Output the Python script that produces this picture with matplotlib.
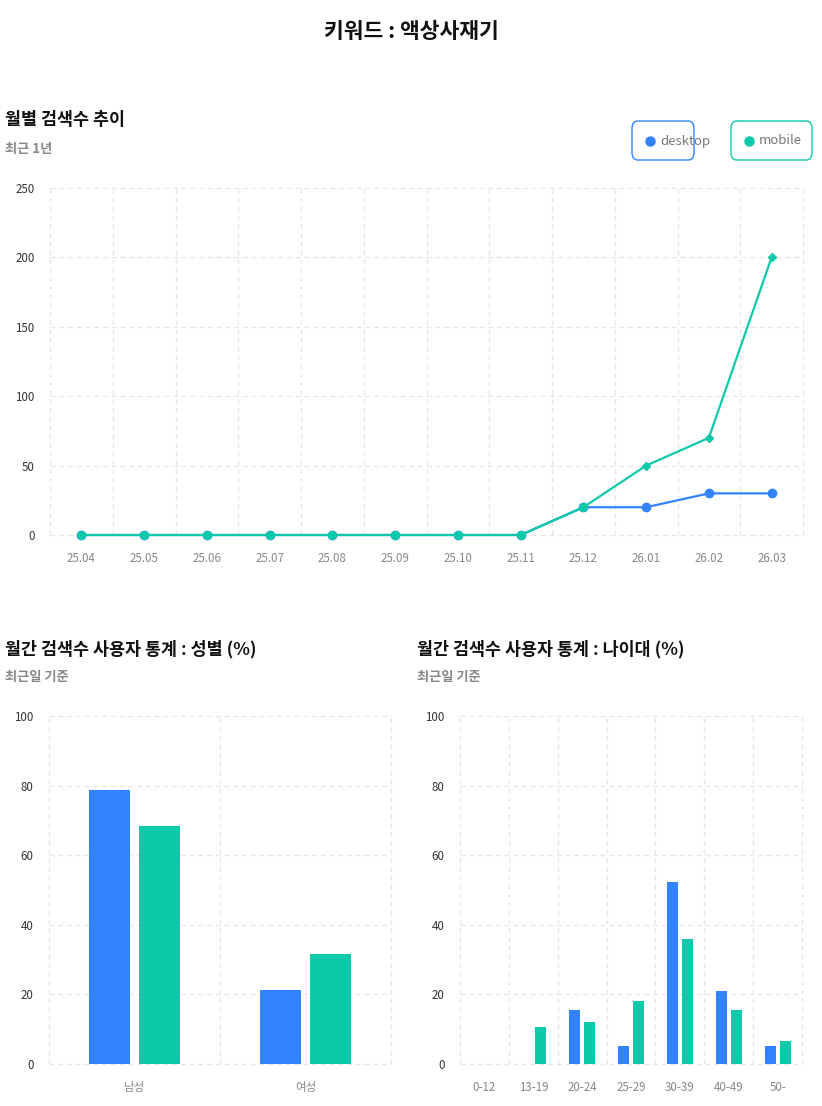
import matplotlib
matplotlib.use("Agg")
import matplotlib.pyplot as plt
from matplotlib.patches import FancyBboxPatch
import numpy as np

plt.rcParams['font.family'] = ['Noto Sans CJK KR', 'DejaVu Sans']

# data
months = ["25.04", "25.05", "25.06", "25.07", "25.08", "25.09", "25.10", "25.11",
          "25.12", "26.01", "26.02", "26.03"]
desktop_cnt = [0, 0, 0, 0, 0, 0, 0, 0, 20, 20, 30, 30]
mobile_cnt = [0, 0, 0, 0, 0, 0, 0, 0, 20, 50, 70, 200]

genders = ["남성", "여성"]
gender_desktop = [78.7, 21.3]
gender_mobile = [68.5, 31.5]

ages = ["0-12", "13-19", "20-24", "25-29", "30-39", "40-49", "50-"]
age_desktop = [0, 0, 15.4, 5.1, 52.4, 20.9, 5.1]
age_mobile = [0, 10.6, 12.0, 18.0, 36.0, 15.4, 6.6]

BLUE = "#3382ff"
GREEN = "#0ccaa9"
GRID = "#e6e6e6"
W, H = 822, 1106

fig = plt.figure(figsize=(W / 100, H / 100), dpi=100)


def px_axes(x0, y0, x1, y1):
    # pixel box (top-left origin) -> axes
    return fig.add_axes([x0 / W, 1 - y1 / H, (x1 - x0) / W, (y1 - y0) / H])


def style(ax, n, ymax, step):
    ax.set_xlim(-0.5, n - 0.5)
    ax.set_ylim(0, ymax)
    for s in ax.spines.values():
        s.set_visible(False)
    ax.set_yticks(np.arange(0, ymax + 1, step))
    for y in np.arange(0, ymax + 1, step):
        ax.axhline(y, color=GRID, lw=0.9, ls=(0, (4, 3)), zorder=0, clip_on=False)
    for x in np.arange(-0.5, n, 1.0):
        ax.axvline(x, color=GRID, lw=0.9, ls=(0, (4, 3)), zorder=0, clip_on=False)
    ax.tick_params(axis='both', length=0)
    ax.tick_params(axis='y', pad=11, labelsize=8.3, labelcolor="#333333")
    ax.tick_params(axis='x', pad=12, labelsize=8.3, labelcolor="#888888")


def fig_text(x, y, s, **kw):
    fig.text(x / W, 1 - y / H, s, **kw)


fig_text(411, 32, "키워드 : 액상사재기", ha='center', va='center', fontsize=15.5, fontweight='bold', color="#111111")

# line chart
fig_text(5, 120, "월별 검색수 추이", ha='left', va='center', fontsize=12.5, fontweight='bold', color="#111111")
fig_text(5, 149, "최근 1년", ha='left', va='center', fontsize=9.5, fontweight='bold', color="#888888")

ax1 = px_axes(50, 188, 803, 535)
style(ax1, len(months), 250, 50)
x = np.arange(len(months))
ax1.plot(x, desktop_cnt, color=BLUE, lw=1.6, marker='o', ms=6, zorder=3, clip_on=False)
ax1.plot(x, mobile_cnt, color=GREEN, lw=1.6, zorder=4, clip_on=False)
ax1.plot(x[:9], mobile_cnt[:9], ls='none', marker='o', ms=5.5, color=GREEN, zorder=5, clip_on=False)
ax1.plot(x[9:], mobile_cnt[9:], ls='none', marker='D', ms=4.2, color=GREEN, zorder=5, clip_on=False)
ax1.set_xticks(x)
ax1.set_xticklabels(months)

# legend boxes
for (x0, x1, col, lab) in [(632, 694, BLUE, "desktop"), (731, 812, GREEN, "mobile")]:
    box = FancyBboxPatch((x0 / W, 1 - 160 / H), (x1 - x0) / W, 39 / H,
                         boxstyle="round,pad=0,rounding_size=0.007",
                         transform=fig.transFigure, fc="white", ec=col, lw=1.0)
    fig.add_artist(box)
    fig.add_artist(plt.Line2D([(x0 + 18) / W], [1 - 141 / H], marker='o', ms=6.5,
                              color=col, transform=fig.transFigure))
    fig_text(x0 + 28, 141, lab, ha='left', va='center', fontsize=9.5, color="#777777")

# gender chart
fig_text(5, 649, "월간 검색수 사용자 통계 : 성별 (%)", ha='left', va='center', fontsize=12.5, fontweight='bold', color="#111111")
fig_text(5, 677, "최근일 기준", ha='left', va='center', fontsize=9.5, fontweight='bold', color="#888888")
ax2 = px_axes(49, 716, 391, 1064)
style(ax2, len(genders), 100, 20)
g = np.arange(len(genders))
ax2.bar(g - 0.149, gender_desktop, width=0.24, color=BLUE, zorder=2)
ax2.bar(g + 0.149, gender_mobile, width=0.24, color=GREEN, zorder=2)
ax2.set_xticks(g)
ax2.set_xticklabels(genders)

# age chart
fig_text(417, 649, "월간 검색수 사용자 통계 : 나이대 (%)", ha='left', va='center', fontsize=12.5, fontweight='bold', color="#111111")
fig_text(417, 677, "최근일 기준", ha='left', va='center', fontsize=9.5, fontweight='bold', color="#888888")
ax3 = px_axes(460, 716, 802, 1064)
style(ax3, len(ages), 100, 20)
a = np.arange(len(ages))
ax3.bar(a - 0.153, age_desktop, width=0.225, color=BLUE, zorder=2)
ax3.bar(a + 0.153, age_mobile, width=0.225, color=GREEN, zorder=2)
ax3.set_xticks(a)
ax3.set_xticklabels(ages)

fig.savefig("out.png", dpi=100)
